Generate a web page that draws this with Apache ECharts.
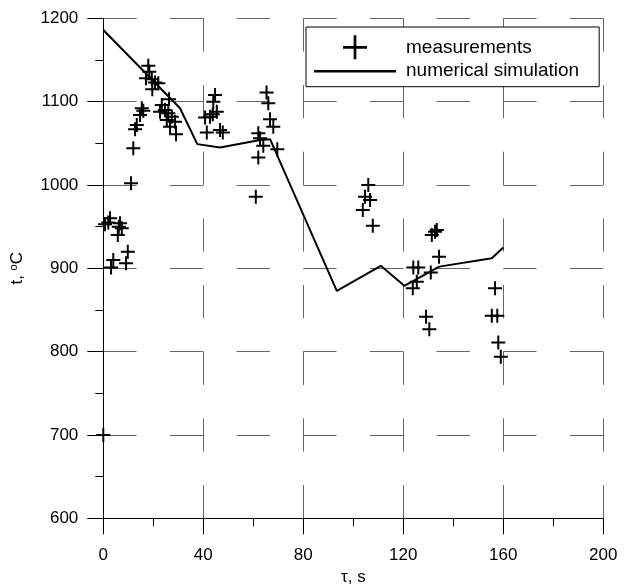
<!DOCTYPE html>
<html><head><meta charset="utf-8">
<script src="https://cdn.jsdelivr.net/npm/echarts@6/dist/echarts.min.js"></script>
<style>html,body{margin:0;padding:0;background:#fff}#c{width:637px;height:585px}</style>
</head><body><div id="c"></div>
<script>
// measured points [tau (s), t (oC)]
const measurementTau = [0, 0.7, 2.0, 2.7, 6.7, 7.4, 5.8, 6.2, 9.8, 4.0, 9.1, 3.1,
  11.1, 12.0, 12.7, 13.4, 14.7, 15.4, 16.0,
  18.0, 18.4, 17.1, 19.4, 20.7, 22.0, 19.6,
  26.3, 23.4, 22.7, 24.7, 26.0, 27.4, 25.4, 28.7, 26.7, 29.1,
  44.7, 44.0, 45.4, 43.8, 40.7, 42.7, 41.4, 46.7, 47.8,
  65.3, 66.0, 66.7, 68.0, 62.0, 62.7, 64.0, 69.6, 62.0, 61.0,
  106.0, 104.7, 106.7, 103.8, 107.8,
  132.7, 133.4, 131.4, 134.3, 124.0, 126.0, 131.0, 125.4, 123.8, 129.1, 130.4,
  156.7, 155.4, 157.6, 158.0, 159.0];
const measurementT = [700, 953, 955, 960, 954, 948, 940, 950, 920, 910, 906, 901,
  1002, 1044, 1067, 1072, 1084, 1092, 1089,
  1143, 1136, 1128, 1127, 1123, 1122, 1115,
  1103, 1096, 1088, 1090, 1086, 1082, 1078, 1076, 1070, 1061,
  1108, 1100, 1088, 1085, 1081, 1082, 1063, 1066, 1063,
  1111, 1098, 1079, 1070, 1062, 1056, 1047, 1043, 1033, 986,
  1000, 986, 982, 970, 951,
  944, 946, 940, 914, 901, 901, 895, 884, 876, 842, 827,
  876, 843, 843, 811, 794];
// numerical simulation
const simulationTau = [0, 30.7, 37.6, 46.7, 62.7, 66.7, 93.4, 111, 120.4, 134.4, 155.4, 160];
const simulationT = [1186, 1092, 1049, 1045, 1054, 1055, 873, 903, 879, 902, 912, 925];
// axes
const xTicks = [0, 40, 80, 120, 160, 200];
const yTicks = [600, 700, 800, 900, 1000, 1100, 1200];
const seriesNames = ['measurements', 'numerical simulation'];

const FONT = "'Liberation Sans', Arial, sans-serif";
const zip = (a, b) => a.map((v, i) => [v, b[i]]);
const PLUS = 'path://M0,-1L0,1M-1,0L1,0';
const dash = [33.33, 33.33];

const chart = echarts.init(document.getElementById('c'), null, {renderer: 'canvas'});
chart.setOption({
  animation: false,
  backgroundColor: '#fff',
  textStyle: {fontFamily: FONT},
  grid: {left: 103.3, right: 33.7, top: 18.3, bottom: 66.7, containLabel: false, outerBoundsMode: 'none'},
  legend: {
    orient: 'vertical', left: 306, top: 27,
    padding: [7, 20, 6, 8], itemGap: 1,
    itemWidth: 82, itemHeight: 24,
    borderColor: '#000', borderWidth: 1, backgroundColor: '#fff',
    symbolKeepAspect: true,
    itemStyle: {borderWidth: 2.7},
    lineStyle: {width: 2.5},
    textStyle: {fontFamily: FONT, fontSize: 19, color: '#000', padding: [0, 0, 0, 5]},
    data: [
      {name: seriesNames[0]},
      {name: seriesNames[1], icon: 'path://M0,0L82,0L82,2.5L0,2.5Z',
        itemStyle: {color: '#000', borderWidth: 0}}
    ]
  },
  xAxis: {
    type: 'value', min: xTicks[0], max: xTicks[xTicks.length - 1], interval: xTicks[1] - xTicks[0],
    name: 'τ, s', nameLocation: 'middle', nameGap: 48,
    nameTextStyle: {fontFamily: FONT, fontSize: 17, color: '#000'},
    axisLine: {show: true, onZero: false, lineStyle: {color: '#000', width: 1}},
    axisTick: {show: true, length: 16, lineStyle: {color: '#000'}},
    minorTick: {show: true, splitNumber: 2, length: 8, lineStyle: {color: '#000'}},
    axisLabel: {margin: 28.5, fontFamily: FONT, fontSize: 17, color: '#000', formatter: v => String(v)},
    splitLine: {show: true, lineStyle: {color: '#666', width: 1, type: dash}},
    minorSplitLine: {show: false}
  },
  yAxis: {
    type: 'value', min: yTicks[0], max: yTicks[yTicks.length - 1], interval: yTicks[1] - yTicks[0],
    name: 't, {sup|o}C', nameLocation: 'middle', nameGap: 76, nameRotate: 90,
    nameTextStyle: {fontFamily: FONT, fontSize: 17, color: '#000',
      rich: {sup: {fontFamily: FONT, fontSize: 11, color: '#000', padding: [0, 0, 8, 0]}}},
    axisLine: {show: true, onZero: false, lineStyle: {color: '#000', width: 1}},
    axisTick: {show: true, length: 16, lineStyle: {color: '#000'}},
    minorTick: {show: true, splitNumber: 2, length: 8, lineStyle: {color: '#000'}},
    axisLabel: {margin: 25, fontFamily: FONT, fontSize: 17, color: '#000', formatter: v => String(v)},
    splitLine: {show: true, lineStyle: {color: '#666', width: 1, type: dash}},
    minorSplitLine: {show: false}
  },
  series: [
    {
      name: seriesNames[0], type: 'scatter', data: zip(measurementTau, measurementT),
      symbol: PLUS, symbolSize: 14, z: 3,
      itemStyle: {color: '#000', borderColor: '#000', borderWidth: 2, opacity: 1}
    },
    {
      name: seriesNames[1], type: 'line', data: zip(simulationTau, simulationT),
      symbol: 'none', smooth: false, z: 2,
      itemStyle: {color: '#000'},
      lineStyle: {color: '#000', width: 2}
    }
  ]
});
</script></body></html>
